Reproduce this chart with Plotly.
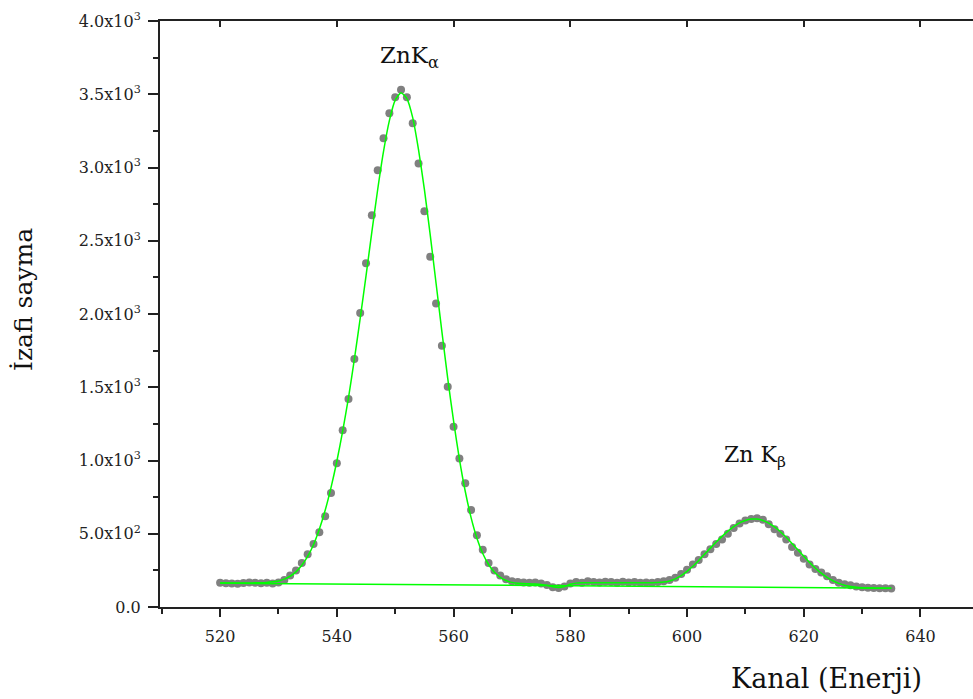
import plotly.graph_objects as go

# ---- data ----
channels = list(range(520, 636))
counts = [
    165, 162, 160, 158, 163, 168, 166, 162, 165, 160,   # 520-529
    168, 185, 215, 250, 300, 360, 430, 510, 620, 778,   # 530-539
    982, 1207, 1419, 1692, 2006, 2347, 2674, 2981, 3200, 3370,  # 540-549
    3480, 3530, 3480, 3302, 3027, 2702, 2390, 2072, 1783, 1503,  # 550-559
    1230, 1014, 844, 662, 490, 390, 300, 250, 215, 190,  # 560-569
    175, 170, 168, 165, 168, 160, 150, 135, 130, 140,    # 570-579
    160, 170, 165, 175, 170, 168, 172, 170, 165, 172,    # 580-589
    168, 170, 165, 168, 165, 170, 175, 185, 200, 225,    # 590-599
    255, 290, 320, 360, 395, 430, 460, 500, 540, 570,    # 600-609
    590, 600, 605, 595, 565, 530, 500, 460, 410, 370,    # 610-619
    330, 290, 260, 235, 210, 185, 165, 155, 148, 140,    # 620-629
    135, 132, 130, 128, 128, 127,                        # 630-635
]
fit = [
    163, 163, 163, 163, 164, 164, 165, 166, 168, 172,
    178, 190, 210, 240, 285, 345, 425, 530, 660, 815,
    995, 1200, 1430, 1690, 1970, 2260, 2560, 2850, 3110, 3320,
    3460, 3510, 3470, 3340, 3120, 2850, 2540, 2210, 1880, 1560,
    1270, 1010, 790, 610, 470, 365, 290, 237, 203, 181,
    168, 162, 160, 158, 157, 154, 148, 138, 133, 140,
    155, 163, 165, 166, 166, 166, 166, 166, 166, 166,
    166, 166, 166, 166, 166, 167, 170, 178, 192, 214,
    243, 278, 318, 360, 402, 443, 482, 518, 549, 574,
    591, 600, 600, 591, 573, 547, 514, 476, 434, 390,
    346, 304, 265, 231, 202, 179, 161, 149, 140, 135,
    132, 130, 129, 128, 128, 128,
]
baseline_x = [520, 635]
baseline_y = [163, 128]

y_tickvals = [0, 500, 1000, 1500, 2000, 2500, 3000, 3500, 4000]
y_ticktext = ["0.0", "5.0x10<sup>2</sup>", "1.0x10<sup>3</sup>", "1.5x10<sup>3</sup>",
              "2.0x10<sup>3</sup>", "2.5x10<sup>3</sup>", "3.0x10<sup>3</sup>",
              "3.5x10<sup>3</sup>", "4.0x10<sup>3</sup>"]
x_tickvals = [520, 540, 560, 580, 600, 620, 640]

FONT = "DejaVu Serif, Liberation Serif, serif"
AXC = "#222222"
TXT = "#222222"
GREEN = "#00ff00"

W, H = 973, 699
L, R, T, B = 160, 0, 21, 92
pw, ph = W - L - R, H - T - B


def px2paper(px, py):
    return (px - L) / pw, (H - B - py) / ph


fig = go.Figure()
fig.add_trace(go.Scatter(x=channels, y=counts, mode="markers",
                         marker=dict(color="#808080", size=8, line=dict(width=0)),
                         showlegend=False))
fig.add_trace(go.Scatter(x=baseline_x, y=baseline_y, mode="lines",
                         line=dict(color=GREEN, width=1.5), showlegend=False))
fig.add_trace(go.Scatter(x=channels, y=fit, mode="lines",
                         line=dict(color=GREEN, width=1.5, shape="spline", smoothing=0.6),
                         showlegend=False))
# invisible trace to anchor top axis
fig.add_trace(go.Scatter(x=[600], y=[0], xaxis="x2", mode="markers",
                         marker=dict(opacity=0), showlegend=False, hoverinfo="skip"))

ann = []
for text, (px, py), size, angle in [
    ("ZnK<sub>α</sub>", (409, 57), 23, 0),
    ("Zn K<sub>β</sub>", (755, 456), 22, 0),
    ("İzafi sayma", (23, 300), 25, -90),
    ("Kanal (Enerji)", (826, 678), 27, 0),
]:
    xp, yp = px2paper(px, py)
    ann.append(dict(text=text, x=xp, y=yp, xref="paper", yref="paper",
                    xanchor="center", yanchor="middle", showarrow=False,
                    textangle=angle,
                    font=dict(family=FONT, size=size, color="#111111")))

fig.update_layout(
    width=W, height=H,
    margin=dict(l=L, r=R, t=T, b=B),
    paper_bgcolor="white", plot_bgcolor="white",
    font=dict(family=FONT, color=TXT),
    xaxis=dict(range=[509.7, 649.0], tickvals=x_tickvals, ticks="outside",
               ticklen=8, tickwidth=1.5, tickcolor=AXC, showline=True,
               linecolor=AXC, linewidth=2, showgrid=False, zeroline=False,
               ticklabelstandoff=6,
               tickfont=dict(family=FONT, size=16, color=TXT),
               minor=dict(tickvals=list(range(510, 650, 10)), ticks="outside",
                          ticklen=5, tickwidth=1.5, tickcolor=AXC)),
    xaxis2=dict(range=[509.7, 649.0], overlaying="x", side="top", anchor="y",
                tickvals=x_tickvals, ticks="inside", ticklen=6, tickwidth=1.5,
                tickcolor=AXC, showline=True, linecolor=AXC, linewidth=2,
                showticklabels=False, showgrid=False, zeroline=False),
    yaxis=dict(range=[0, 4000], tickvals=y_tickvals, ticktext=y_ticktext,
               ticks="outside", ticklen=10, tickwidth=1.5, tickcolor=AXC,
               showline=True, linecolor=AXC, linewidth=2, showgrid=False,
               zeroline=False, ticklabelstandoff=4,
               tickfont=dict(family=FONT, size=16, color=TXT),
               minor=dict(tickvals=list(range(250, 4000, 500)), ticks="outside",
                          ticklen=5, tickwidth=1.5, tickcolor=AXC)),
    annotations=ann,
)

fig.write_html("out.html", config={"displayModeBar": False},
               post_script="document.body.style.margin='0';document.body.style.overflow='hidden';")
